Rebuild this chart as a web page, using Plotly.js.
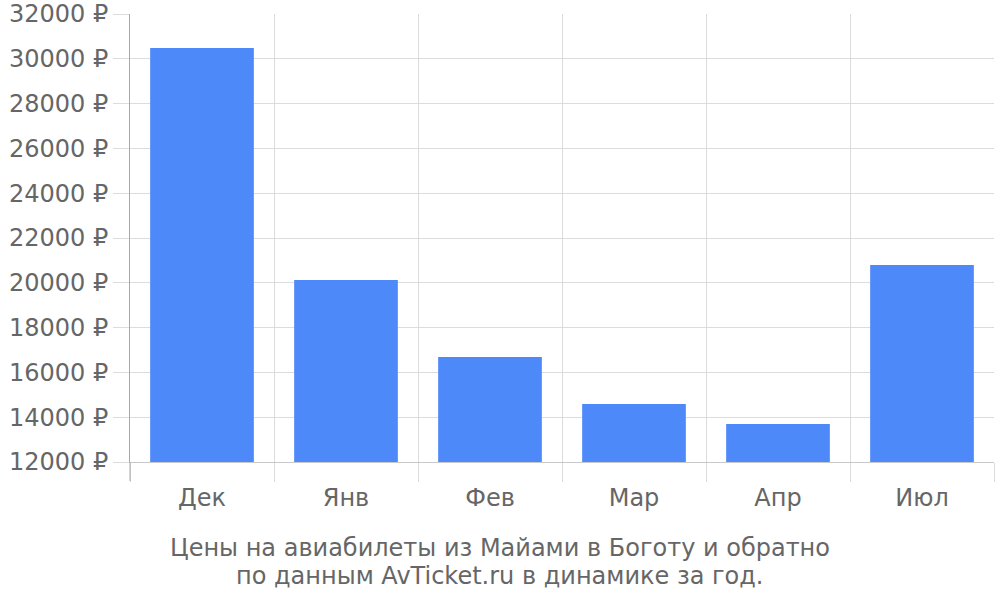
<!DOCTYPE html>
<html>
<head>
<meta charset="utf-8">
<script src="https://cdn.plot.ly/plotly-3.0.1.min.js"></script>
<style>
  html, body { margin: 0; padding: 0; background: #fff; }
  #chart { width: 1000px; height: 600px; }
</style>
</head>
<body>
<div id="chart"></div>
<script>
const months = ['Дек', 'Янв', 'Фев', 'Мар', 'Апр', 'Июл'];
const prices = [30480, 20130, 16690, 14590, 13700, 20800];
const yTicks = [12000, 14000, 16000, 18000, 20000, 22000, 24000, 26000, 28000, 30000, 32000];
const titleLines = [
    'Цены на авиабилеты из Майами в Боготу и обратно',
    'по данным AvTicket.ru в динамике за год.'
];

const font = { family: 'DejaVu Sans, sans-serif', size: 24, color: '#666' };

// plot area is 130..994 px wide, 14..462 px high
const plotW = 864, plotH = 448;

Plotly.newPlot('chart', [
    {
        x: months,
        y: prices,
        type: 'bar',
        marker: { color: '#4d89f9' },
        hoverinfo: 'skip'
    }
], {
    width: 1000,
    height: 600,
    font: font,
    margin: { l: 130, r: 6, t: 14, b: 138 },
    bargap: 0.28,
    showlegend: false,
    plot_bgcolor: '#fff',
    paper_bgcolor: '#fff',
    xaxis: {
        type: 'category',
        range: [-0.5, 5.5],
        tickson: 'boundaries',
        ticks: 'outside',
        ticklen: 19,
        tickcolor: '#dcdcdc',
        ticklabelstandoff: 14,
        showgrid: true,
        gridcolor: '#dcdcdc',
        showline: true,
        linecolor: '#c8c8c8',
        tickfont: font,
        fixedrange: true
    },
    yaxis: {
        range: [12000, 32000],
        tickvals: yTicks,
        ticktext: yTicks.map(v => v + ' ₽'),
        ticks: 'outside',
        ticklen: 16,
        tickcolor: '#dcdcdc',
        gridcolor: '#dcdcdc',
        showline: true,
        linecolor: '#a8a8a8',
        zeroline: false,
        tickfont: font,
        fixedrange: true
    },
    shapes: [
        {
            type: 'line',
            xref: 'paper', yref: 'paper',
            x0: 0, x1: 0, y0: -19 / plotH, y1: 0,
            line: { color: '#a8a8a8', width: 1 }
        }
    ],
    annotations: titleLines.map((t, i) => ({
        text: t,
        xref: 'paper', yref: 'paper',
        x: (500 - 130) / plotW,
        y: -(548 + i * 28 - 462) / plotH,
        xanchor: 'center', yanchor: 'middle',
        showarrow: false,
        font: font
    })),
    hovermode: false
}, { displayModeBar: false, staticPlot: true });
</script>
</body>
</html>
